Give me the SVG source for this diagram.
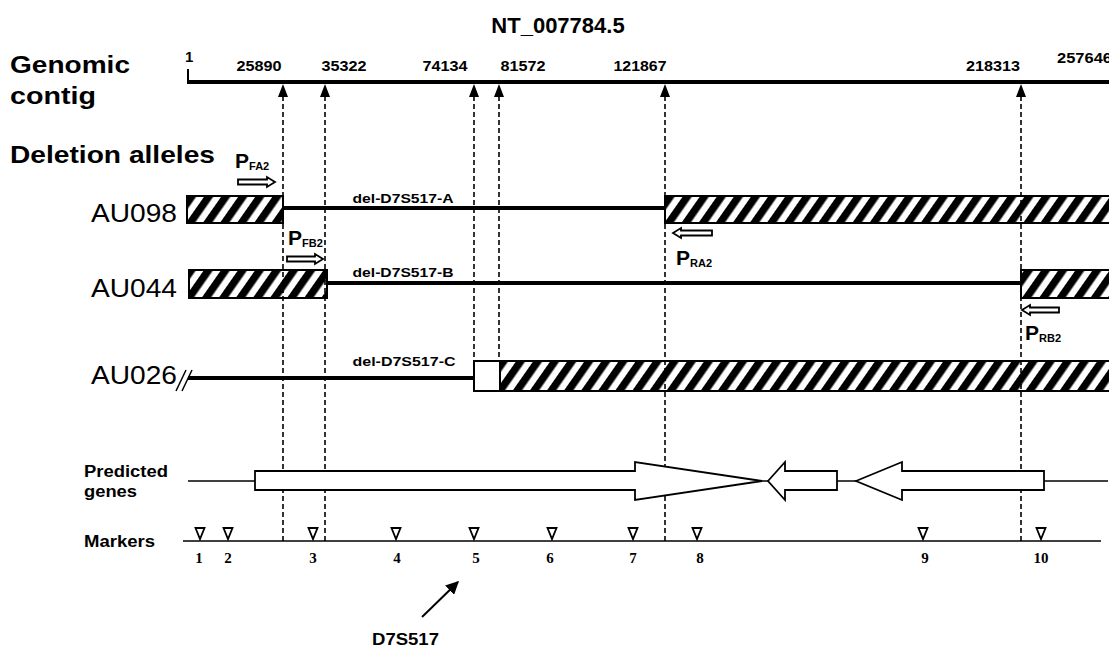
<svg xmlns="http://www.w3.org/2000/svg" width="1109" height="647" viewBox="0 0 1109 647">
<style>
text{font-family:"Liberation Sans",Arial,sans-serif;fill:#000}
.b{font-weight:bold}
.hd{font-size:24px;font-weight:bold}
.num{font-size:15px;font-weight:bold}
.al{font-size:26px}
.del{font-size:13px;font-weight:bold}
.P{font-size:21px;font-weight:bold}
.sub{font-size:11px;font-weight:bold}
.mk{font-family:"Liberation Serif","Times New Roman",serif;font-size:15px;font-weight:bold}
.lbl{font-size:16px;font-weight:bold}
.dash{stroke:#000;stroke-width:1.6;stroke-dasharray:5 3;fill:none}
.thick{stroke:#000;stroke-width:4;fill:none}
.thin{stroke:#000;stroke-width:1.5;fill:none}
.box{stroke:#000;stroke-width:2}
.open{fill:#fff;stroke:#000;stroke-width:1.8}
</style>
<defs>
<pattern id="hatch" patternUnits="userSpaceOnUse" width="14" height="14" patternTransform="rotate(35)">
<rect width="14" height="14" fill="#fff"/>
<rect width="7.5" height="14" fill="#000"/>
</pattern>
<marker id="ah" viewBox="0 0 10 10" refX="9" refY="5" markerWidth="6.5" markerHeight="6.5" orient="auto">
<path d="M0,0 L10,5 L0,10 Z" fill="#000"/>
</marker>
</defs>

<g id="title"><text class="b" x="558" y="33" font-size="22" text-anchor="middle">NT_007784.5</text></g>

<g id="headings">
<text class="hd" x="10" y="73" textLength="120" lengthAdjust="spacingAndGlyphs">Genomic</text>
<text class="hd" x="10" y="104" textLength="86" lengthAdjust="spacingAndGlyphs">contig</text>
<text class="hd" x="10" y="163" textLength="205" lengthAdjust="spacingAndGlyphs">Deletion alleles</text>
</g>

<g id="contig">
<line class="thick" x1="187" y1="82" x2="1109" y2="82"/>
<line x1="188" y1="69" x2="188" y2="82" stroke="#000" stroke-width="2"/>
<text class="num" x="185" y="62">1</text>
<text class="num" x="259" y="71" text-anchor="middle" textLength="45" lengthAdjust="spacingAndGlyphs">25890</text>
<text class="num" x="344" y="71" text-anchor="middle" textLength="45" lengthAdjust="spacingAndGlyphs">35322</text>
<text class="num" x="445" y="71" text-anchor="middle" textLength="45" lengthAdjust="spacingAndGlyphs">74134</text>
<text class="num" x="523" y="71" text-anchor="middle" textLength="45" lengthAdjust="spacingAndGlyphs">81572</text>
<text class="num" x="640" y="71" text-anchor="middle" textLength="53" lengthAdjust="spacingAndGlyphs">121867</text>
<text class="num" x="993" y="71" text-anchor="middle" textLength="54" lengthAdjust="spacingAndGlyphs">218313</text>
<text class="num" x="1057" y="63" textLength="55" lengthAdjust="spacingAndGlyphs">257646</text>
</g>

<g id="AU098">
<text class="al" x="91" y="222" textLength="86" lengthAdjust="spacingAndGlyphs">AU098</text>
<rect class="box" x="187" y="196" width="96" height="27" fill="url(#hatch)"/>
<line class="thick" x1="283" y1="208" x2="665" y2="208"/>
<rect class="box" x="665" y="196" width="450" height="27" fill="url(#hatch)"/>
<text class="del" x="403" y="203" text-anchor="middle" textLength="101" lengthAdjust="spacingAndGlyphs">del-D7S517-A</text>
</g>

<g id="AU044">
<text class="al" x="91" y="297" textLength="86" lengthAdjust="spacingAndGlyphs">AU044</text>
<rect class="box" x="189" y="270" width="138" height="28" fill="url(#hatch)"/>
<line class="thick" x1="327" y1="283" x2="1021" y2="283"/>
<rect class="box" x="1021" y="270" width="92" height="28" fill="url(#hatch)"/>
<text class="del" x="403" y="277" text-anchor="middle" textLength="101" lengthAdjust="spacingAndGlyphs">del-D7S517-B</text>
</g>

<g id="AU026">
<text class="al" x="91" y="384" textLength="86" lengthAdjust="spacingAndGlyphs">AU026</text>
<line x1="176" y1="391" x2="186" y2="370" stroke="#000" stroke-width="1.5"/>
<line x1="182" y1="391" x2="192" y2="370" stroke="#000" stroke-width="1.5"/>
<line class="thick" x1="188" y1="378" x2="474" y2="378"/>
<rect class="box" x="474" y="361" width="26" height="30" fill="#fff"/>
<rect class="box" x="500" y="361" width="613" height="30" fill="url(#hatch)"/>
<text class="del" x="404" y="366" text-anchor="middle" textLength="103" lengthAdjust="spacingAndGlyphs">del-D7S517-C</text>
</g>

<g id="primers">
<text class="P" x="235" y="168">P<tspan class="sub" dy="2">FA2</tspan></text>
<path class="open" d="M238,179.5 H267 V177 L275,182 L267,187 V184.5 H238 Z"/>
<text class="P" x="288" y="245">P<tspan class="sub" dy="2">FB2</tspan></text>
<path class="open" d="M287,256.5 H315 V254 L323,259 L315,264 V261.5 H287 Z"/>
<text class="P" x="676" y="265">P<tspan class="sub" dy="2">RA2</tspan></text>
<path class="open" d="M712,230.5 H681 V228 L673,233 L681,238 V235.5 H712 Z"/>
<text class="P" x="1025" y="340">P<tspan class="sub" dy="2">RB2</tspan></text>
<path class="open" d="M1059,307.5 H1030 V305 L1022,310 L1030,315 V312.5 H1059 Z"/>
</g>

<g id="connectors">
<line class="dash" x1="283" y1="96" x2="283" y2="543"/>
<line class="dash" x1="325" y1="96" x2="325" y2="543"/>
<line class="dash" x1="474" y1="96" x2="474" y2="361"/>
<line class="dash" x1="499" y1="96" x2="499" y2="361"/>
<line class="dash" x1="665" y1="96" x2="665" y2="543"/>
<line class="dash" x1="1021" y1="96" x2="1021" y2="543"/>
<path d="M283,84 L278,97 L288,97 Z M325,84 L320,97 L330,97 Z M474,84 L469,97 L479,97 Z M499,84 L494,97 L504,97 Z M665,84 L660,97 L670,97 Z M1021,84 L1016,97 L1026,97 Z" fill="#000"/>
<line x1="422" y1="617" x2="458" y2="582" stroke="#000" stroke-width="2" marker-end="url(#ah)"/>
</g>

<g id="genes">
<text class="lbl" x="84" y="477" textLength="84" lengthAdjust="spacingAndGlyphs">Predicted</text>
<text class="lbl" x="84" y="497" textLength="53" lengthAdjust="spacingAndGlyphs">genes</text>
<line class="thin" x1="188" y1="481" x2="255" y2="481"/>
<line class="thin" x1="762" y1="481" x2="768" y2="481"/>
<line class="thin" x1="837" y1="481" x2="856" y2="481"/>
<line class="thin" x1="1044" y1="481" x2="1108" y2="481"/>
<path class="open" d="M255,471 H635 V462 L762,481 L635,500 V490 H255 Z"/>
<path class="open" d="M768,481 L785,462 V471 H837 V490 H785 V500 Z"/>
<path class="open" d="M856,481 L902,462 V471 H1044 V490 H902 V500 Z"/>
</g>

<g id="markers">
<text class="lbl" x="84" y="547" textLength="71" lengthAdjust="spacingAndGlyphs">Markers</text>
<line class="thin" x1="183" y1="541" x2="1101" y2="541"/>
<path class="open" stroke-width="2.2" d="M195.5,528 H204.5 L200,539 Z M223.5,528 H232.5 L228,539 Z M308.5,528 H317.5 L313,539 Z M391.5,528 H400.5 L396,539 Z M469.5,528 H478.5 L474,539 Z M547.5,528 H556.5 L552,539 Z M628.5,528 H637.5 L633,539 Z M692.5,528 H701.5 L697,539 Z M918.5,528 H927.5 L923,539 Z M1036.5,528 H1045.5 L1041,539 Z"/>
<text class="mk" x="199" y="563" text-anchor="middle">1</text>
<text class="mk" x="228" y="563" text-anchor="middle">2</text>
<text class="mk" x="313" y="563" text-anchor="middle">3</text>
<text class="mk" x="397" y="563" text-anchor="middle">4</text>
<text class="mk" x="476" y="563" text-anchor="middle">5</text>
<text class="mk" x="550" y="563" text-anchor="middle">6</text>
<text class="mk" x="633" y="563" text-anchor="middle">7</text>
<text class="mk" x="700" y="563" text-anchor="middle">8</text>
<text class="mk" x="925" y="563" text-anchor="middle">9</text>
<text class="mk" x="1041" y="563" text-anchor="middle">10</text>
<text class="lbl" x="372" y="645" textLength="67" lengthAdjust="spacingAndGlyphs">D7S517</text>
</g>
</svg>
